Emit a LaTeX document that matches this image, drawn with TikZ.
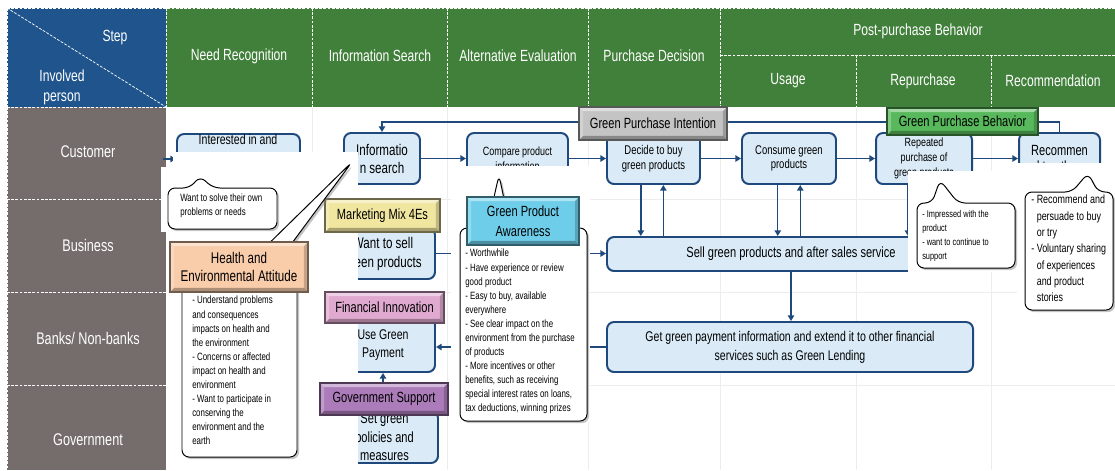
\documentclass[tikz,border=0pt]{standalone}
\usepackage{fontspec}
\setmainfont{Liberation Sans}[FakeStretch=0.75]
\usetikzlibrary{arrows.meta,positioning,fit,shadows}
\definecolor{headblue}{RGB}{31,84,140}
\definecolor{headgreen}{RGB}{65,128,58}
\definecolor{rowgray}{RGB}{117,109,108}
\definecolor{boxfill}{RGB}{218,235,247}
\definecolor{boxline}{RGB}{31,73,125}
\definecolor{taggray}{RGB}{196,196,196}
\definecolor{taggreen}{RGB}{88,184,92}
\definecolor{tagyellow}{RGB}{240,230,160}
\definecolor{tagpink}{RGB}{224,170,208}
\definecolor{tagpurple}{RGB}{172,124,186}
\definecolor{tagpeach}{RGB}{249,204,170}
\definecolor{tagcyan}{RGB}{110,206,234}
\newcommand{\fsz}[2]{\fontsize{#1}{#2}\selectfont}
\tikzset{
  hdr/.style={text=white, font=\fsz{11.5}{14}, align=center},
  rowlbl/.style={text=white, font=\fsz{12}{14}},
  cellline/.style={white, dash pattern=on 2pt off 1pt, line width=0.5pt},
  gridline/.style={black!7, line width=0.5pt},
  stepbox/.style={draw=boxline, fill=boxfill, line width=1.4pt, rounded corners=5pt, inner sep=0pt},
  steptxt/.style={align=center, inner sep=0pt},
  arr/.style={boxline, line width=1pt, -{Triangle[length=4pt,width=4.5pt]}},
  tag/.style={draw=#1!45!black, fill=#1, line width=0.9pt, inner sep=0pt,
    path picture={
      \fill[white,opacity=0.45] (path picture bounding box.north west) -- (path picture bounding box.north east)
        -- ([shift={(-3pt,-3pt)}]path picture bounding box.north east) -- ([shift={(3pt,-3pt)}]path picture bounding box.north west) -- cycle;
      \fill[white,opacity=0.25] (path picture bounding box.north west) -- ([shift={(3pt,-3pt)}]path picture bounding box.north west)
        -- ([shift={(3pt,3pt)}]path picture bounding box.south west) -- (path picture bounding box.south west) -- cycle;
      \fill[black,opacity=0.3] (path picture bounding box.south west) -- ([shift={(3pt,3pt)}]path picture bounding box.south west)
        -- ([shift={(-3pt,3pt)}]path picture bounding box.south east) -- (path picture bounding box.south east) -- cycle;
      \fill[black,opacity=0.2] (path picture bounding box.north east) -- (path picture bounding box.south east)
        -- ([shift={(-3pt,3pt)}]path picture bounding box.south east) -- ([shift={(-3pt,-3pt)}]path picture bounding box.north east) -- cycle;
    }},
  tagtxt/.style={align=center, inner sep=0pt, font=\fsz{10.5}{12}},
  callout/.style={draw=black, fill=white, line width=0.7pt, rounded corners=5pt,
    drop shadow={shadow xshift=1.5pt, shadow yshift=-1.5pt, opacity=0.45}},
  note/.style={anchor=north west, inner sep=0pt, align=left}
}

\begin{document}
\begin{tikzpicture}[x=0.025cm, y=-0.025cm]
    \useasboundingbox (0,0) rectangle (1115,470);
    % Header and row column
    \fill[headblue] (7,8) rectangle (166,107);
    \fill[headgreen] (166,8) rectangle (1115,107);
    \fill[rowgray] (7,107) rectangle (166,470);
    % Faint grid
    \foreach \gx in {312,447,588,720,856,991}
        \draw[gridline] (\gx,107) -- (\gx,470);
    \foreach \gy in {199,292,385}
        \draw[gridline] (166,\gy) -- (1115,\gy);
    % Cell borders
    \draw[cellline] (7,8) -- (1115,8) (7,107) -- (1115,107) (720,55) -- (1115,55);
    \foreach \gx in {7,166,312,447,588,720}
        \draw[cellline] (\gx,8) -- (\gx,107);
    \foreach \gx in {856,991}
        \draw[cellline] (\gx,55) -- (\gx,107);
    \draw[cellline] (7,107) -- (7,470) (166,107) -- (166,470);
    \foreach \gy in {199,292,385}
        \draw[cellline] (7,\gy) -- (166,\gy);
    \draw[cellline] (7,8) -- (166,107);
    % Header labels
    \node[hdr] (hStep) at (115,38) {Step};
    \node[hdr] (hInv) at (62,76) {Involved};
    \node[hdr] (hPer) at (62,99) {person};
    \node[hdr] (hNeed) at (239,56) {Need Recognition};
    \node[hdr] (hInfo) at (380,56) {Information Search};
    \node[hdr] (hAlt) at (518,56) {Alternative Evaluation};
    \node[hdr] (hDec) at (654,56) {Purchase Decision};
    \node[hdr] (hPost) at (918,31) {Post-purchase Behavior};
    \node[hdr] (hUse) at (788,81) {Usage};
    \node[hdr] (hRep) at (923,81) {Repurchase};
    \node[hdr] (hRec) at (1053,81) {Recommendation};
    % Row labels
    \node[rowlbl] (rCust) at (88,152) {Customer};
    \node[rowlbl] (rBus) at (88,245) {Business};
    \node[rowlbl] (rBank) at (88,338) {Banks/ Non-banks};
    \node[rowlbl] (rGov) at (88,440) {Government};

    % Steps
    \node[stepbox, fit={(177,134) (300,184)}] (interest) {};
    \node[stepbox, fit={(344,133) (420,184)}] (info) {};
    \node[stepbox, fit={(467,133) (568,184)}] (compare) {};
    \node[stepbox, fit={(607,133) (700,184)}] (decide) {};
    \node[stepbox, fit={(742,133) (836,184)}] (consume) {};
    \node[stepbox, fit={(876,133) (972,184)}] (repeat) {};
    \node[stepbox, fit={(1019,133) (1100,184)}] (recom) {};
    \node[stepbox, fit={(331,228) (435,279)}] (wantsell) {};
    \node[stepbox, fit={(607,237) (975,271)}] (sell) {};
    \node[stepbox, fit={(607,322) (973,372)}] (getpay) {};
    \node[stepbox, fit={(331,318) (435,372)}] (usepay) {};
    \node[stepbox, fit={(331,411) (438,463)}] (setpol) {};
    % Step texts
    \node[steptxt, font=\fsz{10}{12}] (interestTxt) at (238,139) {Interested in and};
    \node[steptxt, font=\fsz{11}{12.8}] (infoTxt) at (info) {Informatio\\n search};
    \node[steptxt, font=\fsz{8.5}{10.7}] (compareTxt) at (compare) {Compare product\\information};
    \node[steptxt, font=\fsz{9}{10.7}] (decideTxt) at (decide) {Decide to buy\\green products};
    \node[steptxt, font=\fsz{9}{10.3}] (consumeTxt) at (consume) {Consume green\\products};
    \node[steptxt, font=\fsz{8.5}{10.7}] (repeatTxt) at (repeat) {Repeated\\purchase of\\green products};
    \node[steptxt, font=\fsz{10.5}{12}] (recomTxt) at (recom) {Recommen\\d to others};
    \node[steptxt, font=\fsz{11}{13.5}] (wantsellTxt) at (wantsell) {Want to sell\\green products};
    \node[steptxt, font=\fsz{10.5}{12}] (sellTxt) at (sell) {Sell green products and after sales service};
    \node[steptxt, font=\fsz{10}{13.5}] (getpayTxt) at (getpay) {Get green payment information and extend it to other financial\\services such as Green Lending};
    \node[steptxt, font=\fsz{10}{12.8}] (usepayTxt) at (usepay) {Use Green\\Payment};
    \node[steptxt, font=\fsz{10.5}{13}] (setpolTxt) at (setpol) {Set green\\policies and\\measures};

    % Connectors
    \coordinate (stubL) at (163,159);
    \draw[arr] (stubL) -- (interest.west);
    \draw[arr] (info.east) -- (compare.west);
    \draw[arr] (compare.east) -- (decide.west);
    \draw[arr] (decide.east) -- (consume.west);
    \draw[arr] (consume.east) -- (repeat.west);
    \draw[arr] (repeat.east) -- (recom.west);
    \draw[arr] (recom.north) -- ++(0,-10) -| (info.north);
    \draw[arr] ([xshift=-9pt]decide.south) -- ([xshift=-9pt]decide.south |- sell.north);
    \draw[arr] ([xshift=7pt]decide.south |- sell.north) -- ([xshift=7pt]decide.south);
    \draw[arr] ([xshift=-8pt]consume.south) -- ([xshift=-8pt]consume.south |- sell.north);
    \draw[arr] ([xshift=8pt]consume.south |- sell.north) -- ([xshift=8pt]consume.south);
    \draw[arr] ([xshift=-11.4pt]repeat.south) -- ([xshift=-11.4pt]repeat.south |- sell.north);
    \draw[arr] (sell.south) -- (sell.south |- getpay.north);
    \draw[arr] (wantsell.east) -- (wantsell.east -| sell.west);
    \draw[arr] (getpay.west) -- (getpay.west -| usepay.east);
    \draw[arr] (usepay.south |- setpol.north) -- (usepay.south);

    % White cut-outs
    \fill[white] (173,152) rectangle (358,470);
    \fill[white] (161,167) rectangle (173,232);
    \fill[white] (166,232) rectangle (173,470);
    \fill[white] (451,166) rectangle (590,422);
    \fill[white] (908,171) rectangle (1017,272);
    \fill[white] (1017,163) rectangle (1115,312);

    % Stage tags
    \node[tag=taggray, fit={(579,107) (727,140)}] (gpi) {};
    \node[tagtxt] (gpiTxt) at (gpi) {Green Purchase Intention};
    \node[tag=taggreen, fit={(887,108) (1038,135)}] (gpb) {};
    \node[tagtxt] (gpbTxt) at (gpb) {Green Purchase Behavior};
    \node[tag=tagyellow, fit={(325,199) (440,232)}] (mkt) {};
    \node[tagtxt] (mktTxt) at (mkt) {Marketing Mix 4Es};
    \node[tag=tagpink, fit={(325,292) (444,323)}] (fin) {};
    \node[tagtxt] (finTxt) at (fin) {Financial Innovation};
    \node[tag=tagpurple, fit={(320,383) (448,415)}] (gov) {};
    \node[tagtxt] (govTxt) at (gov) {Government Support};

    % Callouts
    \draw[callout] (168,208) -- (168,188) -- (190,188) -- (200,176) -- (213,188) -- (277,188)
        -- (277,229) -- (168,229) -- cycle;
    \draw[callout] (182,360) -- (182,262) -- (250,262) -- (352,162) -- (278,262) -- (297,262)
        -- (297,457) -- (182,457) -- cycle;
    \draw[callout] (460,320) -- (460,228) -- (487,228) -- (499,175) -- (510,228) -- (587,228)
        -- (587,421) -- (460,421) -- cycle;
    \draw[callout] (917,235) -- (917,203) -- (932,203) -- (940,180) -- (958,203) -- (1015,203)
        -- (1015,268) -- (917,268) -- cycle;
    \draw[callout] (1025,250) -- (1025,192) -- (1072,192) -- (1088,173) -- (1098,192) -- (1113,192)
        -- (1113,310) -- (1025,310) -- cycle;

    \node[tag=tagpeach, fit={(170,242) (308,292)}] (health) {};
    \node[tagtxt, font=\fsz{11}{12.8}] (healthTxt) at (health) {Health and\\Environmental Attitude};
    \node[tag=tagcyan, fit={(467,197) (579,245)}] (gpa) {};
    \node[tagtxt, font=\fsz{10.5}{14}] (gpaTxt) at (gpa) {Green Product\\Awareness};

    % Callout texts
    \node[note, font=\fsz{7.5}{10}] (solveNote) at (180,194) {Want to solve their own\\problems or needs};
    \node[note, font=\fsz{7.5}{10}] (healthNote) at (192,296) {- Understand problems\\and consequences\\impacts on health and\\the environment\\- Concerns or affected\\impact on health and\\environment\\- Want to participate in\\conserving the\\environment and the\\earth};
    \node[note, font=\fsz{7.5}{10}] (gpaNote) at (465,249) {- Worthwhile\\- Have experience or review\\good product\\- Easy to buy, available\\everywhere\\- See clear impact on the\\environment from the purchase\\of products\\- More incentives or other\\benefits, such as receiving\\special interest rates on loans,\\tax deductions, winning prizes};
    \node[note, font=\fsz{7}{10}] (impNote) at (922,210) {- Impressed with the\\product\\- want to continue to\\support};
    \node[note, font=\fsz{8.5}{11.6}] (recNote) at (1031,195) {- Recommend and\\\phantom{-~}persuade to buy\\\phantom{-~}or try\\- Voluntary sharing\\\phantom{-~}of experiences\\\phantom{-~}and product\\\phantom{-~}stories};
\end{tikzpicture}
\end{document}
